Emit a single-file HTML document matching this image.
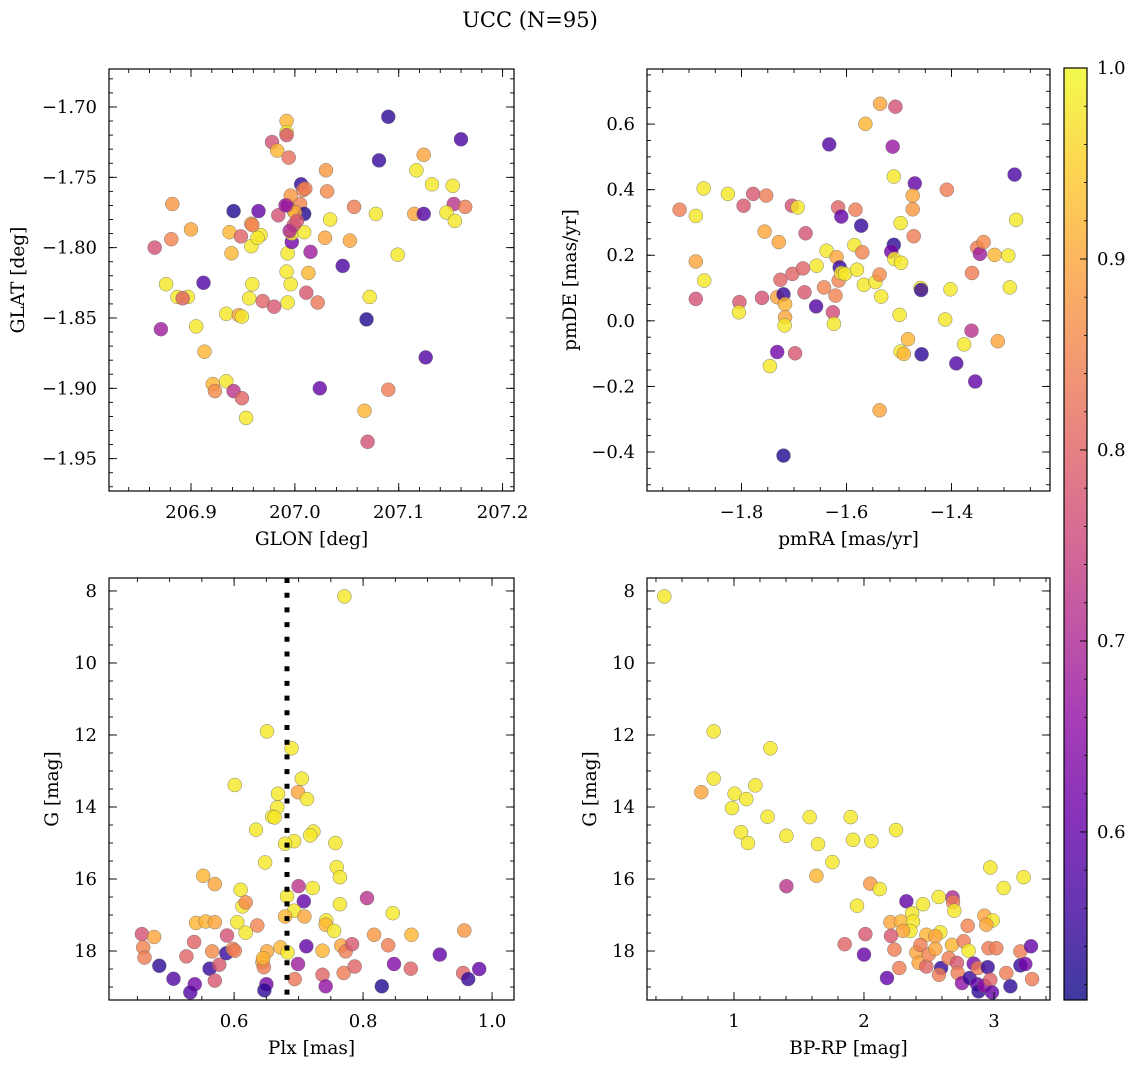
<!DOCTYPE html>
<html><head><meta charset="utf-8"><title>UCC (N=95)</title>
<style>
html,body{margin:0;padding:0;background:#fff;}
svg{display:block;font-family:"DejaVu Serif","Liberation Serif",serif;}
</style></head>
<body>
<svg id="fig" xmlns="http://www.w3.org/2000/svg" width="1136" height="1068" viewBox="0 0 1136 1068">
<rect x="0" y="0" width="1136" height="1068" fill="#fff"/>
<text x="530" y="27" font-size="21" text-anchor="middle" fill="#000">UCC (N=95)</text>
<defs>
<linearGradient id="plasmaGrad" x1="0" y1="1" x2="0" y2="0">
<stop offset="0" stop-color="#0d0887"/><stop offset="0.1" stop-color="#41049d"/>
<stop offset="0.2" stop-color="#6a00a8"/><stop offset="0.3" stop-color="#8f0da4"/>
<stop offset="0.4" stop-color="#b12a90"/><stop offset="0.5" stop-color="#cc4778"/>
<stop offset="0.6" stop-color="#e16462"/><stop offset="0.7" stop-color="#f2844b"/>
<stop offset="0.8" stop-color="#fca636"/><stop offset="0.9" stop-color="#fcce25"/>
<stop offset="1" stop-color="#f0f921"/>
</linearGradient>
</defs>
<g id="layer"></g>
</svg>
<script>
// ---- data: panel 1 (GLON vs GLAT)
const glon = [206.865,206.882,206.881,206.900,206.876,206.887,206.897,206.871,206.912,206.941,206.965,206.937,206.948,206.958,206.967,206.958,206.939,206.959,206.956,206.969,206.980,206.993,206.996,206.992,206.993,207.011,207.022,207.013,207.015,206.997,206.997,207.009,206.999,206.999,206.984,206.993,207.005,206.996,207.009,207.006,207.008,206.978,206.983,206.992,206.992,206.992,206.994,207.030,207.031,207.034,207.029,207.053,207.057,207.078,207.046,207.072,207.069,207.099,207.081,207.090,207.160,207.124,207.117,207.132,207.152,207.153,207.164,207.146,207.154,207.115,207.124,207.126,207.090,207.067,207.070,207.024,206.913,206.921,206.923,206.934,206.941,206.949,206.953,206.905,206.934,206.946,206.949,206.892,206.995,207.000,207.002,206.991,206.964,206.959,207.010];
const glat = [-1.800,-1.769,-1.794,-1.787,-1.826,-1.835,-1.835,-1.858,-1.825,-1.774,-1.774,-1.789,-1.792,-1.783,-1.791,-1.799,-1.804,-1.826,-1.836,-1.838,-1.842,-1.839,-1.826,-1.817,-1.804,-1.832,-1.839,-1.818,-1.803,-1.796,-1.790,-1.789,-1.784,-1.774,-1.777,-1.770,-1.769,-1.763,-1.776,-1.755,-1.759,-1.725,-1.731,-1.710,-1.718,-1.720,-1.736,-1.745,-1.760,-1.780,-1.793,-1.795,-1.771,-1.776,-1.813,-1.835,-1.851,-1.805,-1.738,-1.707,-1.723,-1.734,-1.745,-1.755,-1.756,-1.769,-1.771,-1.775,-1.781,-1.776,-1.776,-1.878,-1.901,-1.916,-1.938,-1.900,-1.874,-1.897,-1.902,-1.895,-1.902,-1.907,-1.921,-1.856,-1.847,-1.848,-1.849,-1.836,-1.788,-1.775,-1.781,-1.770,-1.793,-1.784,-1.758];
const prob1 = [0.77,0.88,0.85,0.9,0.98,0.98,0.98,0.68,0.58,0.53,0.6,0.92,0.8,0.88,0.98,0.98,0.92,0.98,0.98,0.8,0.78,0.98,0.98,0.98,0.98,0.78,0.83,0.92,0.68,0.62,0.98,0.98,0.78,0.98,0.77,0.62,0.85,0.88,0.53,0.55,0.85,0.77,0.92,0.92,0.98,0.78,0.82,0.88,0.86,0.98,0.9,0.9,0.84,0.98,0.57,0.98,0.53,0.98,0.55,0.54,0.57,0.9,0.98,0.98,0.98,0.72,0.84,0.98,0.98,0.9,0.58,0.58,0.84,0.92,0.77,0.6,0.92,0.92,0.86,0.98,0.72,0.8,0.98,0.98,0.98,0.9,0.98,0.8,0.7,0.9,0.78,0.68,0.98,0.85,0.84];
// ---- data: panel 2 (pmRA vs pmDE)
const pmra = [-1.918,-1.887,-1.872,-1.826,-1.796,-1.778,-1.753,-1.887,-1.871,-1.887,-1.804,-1.805,-1.761,-1.756,-1.729,-1.726,-1.703,-1.683,-1.680,-1.678,-1.704,-1.693,-1.732,-1.720,-1.717,-1.717,-1.718,-1.732,-1.698,-1.746,-1.720,-1.658,-1.626,-1.624,-1.643,-1.621,-1.657,-1.638,-1.619,-1.615,-1.613,-1.610,-1.603,-1.580,-1.567,-1.545,-1.537,-1.534,-1.585,-1.570,-1.616,-1.610,-1.583,-1.572,-1.633,-1.564,-1.536,-1.507,-1.512,-1.510,-1.470,-1.474,-1.474,-1.497,-1.472,-1.510,-1.515,-1.509,-1.496,-1.459,-1.458,-1.499,-1.483,-1.497,-1.491,-1.457,-1.537,-1.409,-1.402,-1.412,-1.391,-1.355,-1.362,-1.376,-1.361,-1.351,-1.346,-1.339,-1.318,-1.292,-1.289,-1.312,-1.277,-1.280];
const pmde = [0.339,0.320,0.404,0.387,0.351,0.387,0.382,0.181,0.123,0.067,0.057,0.026,0.070,0.272,0.240,0.125,0.143,0.160,0.087,0.267,0.351,0.346,0.072,0.081,0.051,0.011,-0.014,-0.095,-0.099,-0.138,-0.411,0.044,0.026,-0.009,0.102,0.077,0.168,0.214,0.194,0.123,0.163,0.146,0.143,0.156,0.110,0.118,0.141,0.074,0.231,0.209,0.346,0.318,0.339,0.290,0.538,0.601,0.662,0.653,0.531,0.440,0.419,0.382,0.340,0.298,0.258,0.232,0.211,0.189,0.177,0.100,0.094,0.018,-0.056,-0.094,-0.101,-0.102,-0.273,0.400,0.096,0.004,-0.130,-0.185,-0.030,-0.072,0.146,0.223,0.204,0.240,0.201,0.199,0.102,-0.062,0.308,0.446];
const prob2 = [0.84,0.98,0.98,0.98,0.78,0.78,0.84,0.9,0.98,0.77,0.78,0.98,0.77,0.9,0.9,0.8,0.8,0.8,0.78,0.77,0.77,0.98,0.9,0.55,0.92,0.9,0.98,0.62,0.78,0.98,0.53,0.58,0.76,0.98,0.85,0.85,0.98,0.98,0.9,0.85,0.55,0.98,0.98,0.98,0.98,0.98,0.86,0.98,0.98,0.85,0.8,0.6,0.84,0.55,0.58,0.92,0.9,0.77,0.67,0.98,0.6,0.9,0.88,0.98,0.84,0.54,0.62,0.98,0.98,0.98,0.55,0.98,0.92,0.98,0.92,0.54,0.9,0.84,0.98,0.98,0.58,0.6,0.72,0.98,0.84,0.84,0.68,0.86,0.92,0.98,0.98,0.9,0.98,0.57];
// ---- data: panel 3 (Plx vs G)
const plx = [0.771,0.651,0.689,0.601,0.705,0.699,0.668,0.713,0.667,0.659,0.663,0.634,0.723,0.718,0.693,0.679,0.757,0.759,0.764,0.648,0.552,0.570,0.610,0.700,0.722,0.708,0.682,0.764,0.806,0.846,0.613,0.618,0.693,0.679,0.709,0.541,0.556,0.570,0.605,0.636,0.618,0.743,0.742,0.755,0.957,0.875,0.817,0.839,0.457,0.476,0.459,0.461,0.484,0.506,0.526,0.538,0.566,0.562,0.577,0.570,0.539,0.532,0.588,0.589,0.598,0.601,0.644,0.646,0.651,0.645,0.650,0.647,0.672,0.683,0.694,0.699,0.712,0.737,0.737,0.742,0.766,0.773,0.783,0.770,0.787,0.829,0.848,0.874,0.919,0.955,0.963,0.980];
const gmag3 = [8.15,11.90,12.37,13.39,13.21,13.59,13.63,13.78,14.01,14.27,14.29,14.63,14.68,14.79,14.95,15.02,15.00,15.67,15.95,15.54,15.91,16.14,16.30,16.20,16.25,16.62,16.48,16.70,16.53,16.95,16.76,16.65,16.88,17.04,17.04,17.22,17.18,17.20,17.20,17.29,17.49,17.15,17.27,17.44,17.43,17.55,17.55,17.84,17.53,17.61,17.90,18.18,18.41,18.77,18.15,17.75,18.01,18.49,18.38,18.82,18.92,19.15,18.06,17.57,17.94,17.99,18.31,18.45,18.01,18.20,18.92,19.09,17.90,18.04,18.78,18.36,17.87,17.99,18.66,18.98,17.85,18.01,17.81,18.61,18.43,18.98,18.36,18.49,18.10,18.61,18.78,18.50];
const prob3 = [0.98,0.98,0.98,0.98,0.98,0.9,0.98,0.98,0.98,0.98,0.98,0.98,0.98,0.98,0.98,0.98,0.98,0.98,0.98,0.98,0.92,0.9,0.98,0.72,0.98,0.6,0.98,0.98,0.72,0.98,0.98,0.86,0.98,0.92,0.9,0.92,0.92,0.9,0.98,0.85,0.98,0.98,0.92,0.98,0.88,0.92,0.88,0.84,0.77,0.9,0.85,0.84,0.54,0.58,0.8,0.8,0.86,0.55,0.78,0.78,0.62,0.58,0.55,0.77,0.85,0.84,0.9,0.84,0.9,0.92,0.62,0.54,0.92,0.98,0.83,0.68,0.6,0.92,0.8,0.66,0.9,0.84,0.78,0.84,0.8,0.53,0.64,0.8,0.6,0.8,0.55,0.6];
// ---- data: panel 4 (BP-RP vs G)
const bprp = [0.464,0.844,1.280,0.844,0.749,1.005,1.164,1.095,0.985,1.259,1.582,1.898,1.054,1.108,1.403,1.646,1.916,2.057,2.246,1.757,1.403,1.634,2.049,2.121,1.946,2.326,2.454,2.575,2.682,2.685,2.695,2.972,3.075,3.228,2.926,2.990,2.941,2.798,2.203,2.285,2.370,2.377,2.357,2.300,2.480,2.587,2.549,2.208,2.011,1.852,2.000,2.234,2.272,2.177,2.403,2.434,2.421,2.480,2.498,2.549,2.593,2.577,2.652,2.677,2.716,2.721,2.754,2.767,2.805,2.813,2.844,2.877,2.870,2.882,2.926,2.952,2.972,2.985,2.959,3.018,3.095,3.126,3.203,3.203,3.241,3.285,3.293];
const gmag4 = [8.15,11.90,12.37,13.21,13.59,13.63,13.40,13.78,14.03,14.27,14.28,14.28,14.70,15.00,14.80,15.03,14.91,14.95,14.64,15.53,16.20,15.91,16.13,16.28,16.74,16.62,16.70,16.50,16.51,16.64,16.88,15.68,16.25,15.95,17.02,17.15,17.27,17.30,17.20,17.18,16.95,17.18,17.44,17.44,17.55,17.48,17.59,17.58,17.53,17.81,18.10,17.96,18.47,18.75,18.04,17.83,18.33,18.43,18.10,17.94,18.47,18.66,18.20,17.83,18.33,18.61,18.89,17.73,17.99,18.75,18.35,18.47,18.92,19.12,18.96,18.45,18.80,19.15,17.92,17.92,18.61,18.98,18.01,18.40,18.36,17.87,18.78];
const prob4 = [0.98,0.98,0.98,0.98,0.9,0.98,0.98,0.98,0.98,0.98,0.98,0.98,0.98,0.98,0.98,0.98,0.98,0.98,0.98,0.98,0.72,0.92,0.88,0.98,0.98,0.6,0.98,0.98,0.7,0.84,0.98,0.98,0.98,0.98,0.9,0.98,0.9,0.85,0.9,0.92,0.98,0.98,0.98,0.9,0.92,0.98,0.9,0.78,0.78,0.8,0.6,0.84,0.84,0.6,0.9,0.84,0.9,0.8,0.85,0.9,0.55,0.84,0.84,0.92,0.78,0.84,0.66,0.84,0.98,0.55,0.62,0.84,0.6,0.54,0.66,0.55,0.8,0.6,0.84,0.84,0.84,0.54,0.84,0.55,0.62,0.6,0.84];
// ---- tick labels
const p1xTicks = [206.9,207.0,207.1,207.2];
const p1yTicks = [-1.70,-1.75,-1.80,-1.85,-1.90,-1.95];
const p2xTicks = [-1.8,-1.6,-1.4];
const p2yTicks = [0.6,0.4,0.2,0.0,-0.2,-0.4];
const p3xTicks = [0.6,0.8,1.0];
const gTicks = [8,10,12,14,16,18];
const p4xTicks = [1,2,3];
const cbTicks = [0.6,0.7,0.8,0.9,1.0];
const plxRef = 0.682;
const cMin = 0.512, cMax = 1.0;

const NS = "http://www.w3.org/2000/svg";
const layer = document.getElementById('layer');
function mk(tag, attrs, parent){
  const e = document.createElementNS(NS, tag);
  for (const k in attrs) e.setAttribute(k, attrs[k]);
  (parent||layer).appendChild(e);
  return e;
}
const stops = [[0,[13,8,135]],[0.1,[65,4,157]],[0.2,[106,0,168]],[0.3,[143,13,164]],[0.4,[177,42,144]],[0.5,[204,71,120]],[0.6,[225,100,98]],[0.7,[242,132,75]],[0.8,[252,166,54]],[0.9,[252,206,37]],[1,[240,249,33]]];
function plasma(v){
  let t = (v-cMin)/(cMax-cMin); t = Math.max(0,Math.min(1,t));
  for (let i=0;i<stops.length-1;i++){
    const a=stops[i], b=stops[i+1];
    if (t<=b[0]){ const f=(t-a[0])/(b[0]-a[0]);
      const c=a[1].map((x,j)=>Math.round(x+(b[1][j]-x)*f));
      return `rgb(${c[0]},${c[1]},${c[2]})`; }
  }
  return 'rgb(240,249,33)';
}
function fmt(v,d){ const s=Math.abs(v).toFixed(d); return (v<0?'\u2212':'')+s; }
const TICKFS = 18, LABFS = 18.5;

function panel(cfg){
  const {name,L,T,W,H,xmin,xmax,ymin,ymax,xs,ys,cs,xt,yt,xd,yd,xminor,yminor,xlab,ylab,ylx,invertY} = cfg;
  const g = mk('g',{});
  
  
  const sx = v => L + (v-xmin)/(xmax-xmin)*W;
  const sy = invertY ? (v => T + (v-ymin)/(ymax-ymin)*H) : (v => T + (ymax-v)/(ymax-ymin)*H);
  const clipId = name+'-clip';
  const cp = mk('clipPath',{id:clipId},g);
  mk('rect',{x:L,y:T,width:W,height:H},cp);
  const pts = mk('g',{'clip-path':`url(#${clipId})`},g);
  
  
  for (let i=0;i<xs.length;i++){
    const c = mk('circle',{cx:sx(xs[i]).toFixed(1),cy:sy(ys[i]).toFixed(1),r:7,fill:plasma(cs[i]),'fill-opacity':0.8,stroke:'#666','stroke-width':0.5,'stroke-opacity':0.8},pts);
    
    
  }
  if (cfg.vline!==undefined){
    const vl = mk('line',{x1:sx(cfg.vline),x2:sx(cfg.vline),y1:T,y2:T+H,stroke:'#000','stroke-width':5,'stroke-dasharray':'5 9.7'},pts);
    
    
  }
  mk('rect',{x:L,y:T,width:W,height:H,fill:'none',stroke:'#000','stroke-width':1.2},g);
  const tk = mk('g',{stroke:'#000','stroke-width':0.9},g);
  const lo = Math.min(xmin,xmax), hi=Math.max(xmin,xmax);
  for (let v=Math.ceil(lo/xminor-1e-6)*xminor; v<=hi+1e-9; v+=xminor){
    const x=sx(v);
    mk('line',{x1:x,x2:x,y1:T+H,y2:T+H-4},tk); mk('line',{x1:x,x2:x,y1:T,y2:T+4},tk);
  }
  const ylo=Math.min(ymin,ymax), yhi=Math.max(ymin,ymax);
  for (let v=Math.ceil(ylo/yminor-1e-6)*yminor; v<=yhi+1e-9; v+=yminor){
    const y=sy(v);
    mk('line',{x1:L,x2:L+4,y1:y,y2:y},tk); mk('line',{x1:L+W,x2:L+W-4,y1:y,y2:y},tk);
  }
  xt.forEach(v=>{
    const x=sx(v);
    mk('line',{x1:x,x2:x,y1:T+H,y2:T+H-8},tk); mk('line',{x1:x,x2:x,y1:T,y2:T+8},tk);
    const t = mk('text',{x:x,y:T+H+27,'font-size':TICKFS,'text-anchor':'middle',fill:'#000'},g);
    t.textContent = fmt(v,xd);
    
    
  });
  yt.forEach(v=>{
    const y=sy(v);
    mk('line',{x1:L,x2:L+8,y1:y,y2:y},tk); mk('line',{x1:L+W,x2:L+W-8,y1:y,y2:y},tk);
    const t = mk('text',{x:L-12,y:y+6,'font-size':TICKFS,'text-anchor':'end',fill:'#000'},g);
    t.textContent = fmt(v,yd);
    
    
  });
  const xl = mk('text',{x:L+W/2,y:T+H+54,'font-size':LABFS,'text-anchor':'middle',fill:'#000'},g);
  xl.textContent = xlab;
  
  
  const cy=T+H/2;
  const yl = mk('text',{x:ylx,y:cy,'font-size':LABFS,'text-anchor':'middle',fill:'#000',transform:`rotate(-90 ${ylx} ${cy})`},g);
  yl.textContent = ylab;
  
  
}

panel({name:'glon-glat-panel',L:109,T:69,W:405,H:422,xmin:206.821,xmax:207.211,ymin:-1.973,ymax:-1.673,xs:glon,ys:glat,cs:prob1,xt:p1xTicks,yt:p1yTicks,xd:1,yd:2,xminor:0.02,yminor:0.01,xlab:'GLON [deg]',ylab:'GLAT [deg]',ylx:24});
panel({name:'pm-panel',L:647,T:69,W:403,H:422,xmin:-1.980,xmax:-1.2125,ymin:-0.519,ymax:0.768,xs:pmra,ys:pmde,cs:prob2,xt:p2xTicks,yt:p2yTicks,xd:1,yd:1,xminor:0.05,yminor:0.05,xlab:'pmRA [mas/yr]',ylab:'pmDE [mas/yr]',ylx:576});
panel({name:'plx-g-panel',L:109,T:578,W:405,H:422,xmin:0.406,xmax:1.034,ymin:7.64,ymax:19.36,invertY:true,xs:plx,ys:gmag3,cs:prob3,xt:p3xTicks,yt:gTicks,xd:1,yd:0,xminor:0.05,yminor:0.5,xlab:'Plx [mas]',ylab:'G [mag]',ylx:58,vline:plxRef});
panel({name:'cmd-panel',L:647,T:578,W:403,H:422,xmin:0.331,xmax:3.431,ymin:7.64,ymax:19.36,invertY:true,xs:bprp,ys:gmag4,cs:prob4,xt:p4xTicks,yt:gTicks,xd:0,yd:0,xminor:0.2,yminor:0.5,xlab:'BP-RP [mag]',ylab:'G [mag]',ylx:596});

(function(){
  const L=1064,T=68,W=23,H=932;
  const cb = mk('g',{});
  
  
  mk('rect',{x:L,y:T,width:W,height:H,fill:'url(#plasmaGrad)','fill-opacity':0.8},cb);
  mk('rect',{x:L,y:T,width:W,height:H,fill:'none',stroke:'#000','stroke-width':1.2},cb);
  const sy = v => T + (cMax-v)/(cMax-cMin)*H;
  for (let v=0.52; v<=1.0001; v+=0.02){
    const y=sy(v); mk('line',{x1:L+W,x2:L+W-3,y1:y,y2:y,stroke:'#000','stroke-width':0.8},cb);
  }
  cbTicks.forEach(v=>{
    const y=sy(v);
    mk('line',{x1:L+W,x2:L+W-7,y1:y,y2:y,stroke:'#000','stroke-width':0.9},cb);
    const t = mk('text',{x:L+W+10,y:y+6,'font-size':TICKFS,fill:'#000'},cb);
    t.textContent = v.toFixed(1);
    
    
  });
})();
</script>
</body></html>
